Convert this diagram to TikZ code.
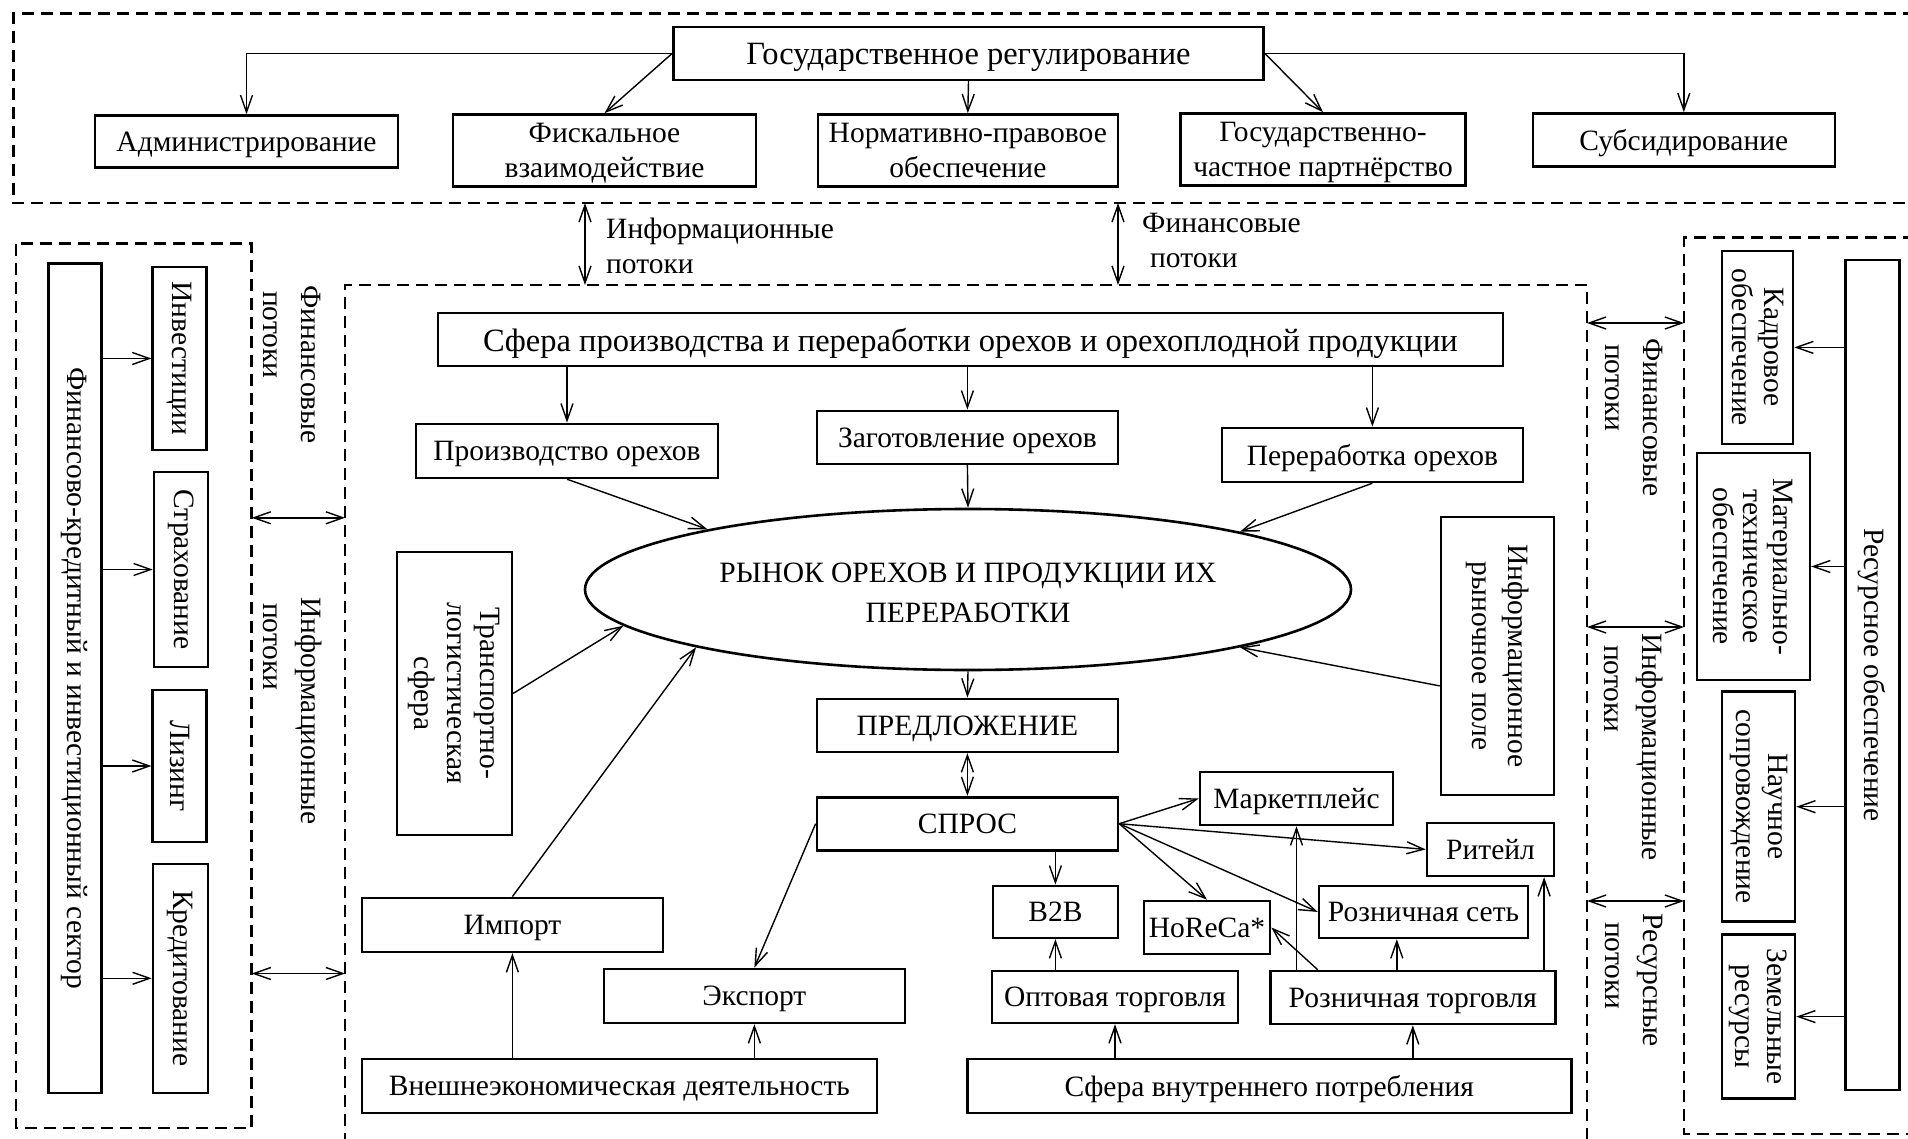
\documentclass[tikz,border=0pt]{standalone}
\usepackage{fontspec}
\setmainfont{Liberation Serif}
\usetikzlibrary{arrows.meta,shapes.geometric}

\begin{document}
\begin{tikzpicture}[x=1pt, y=-1pt,
  font=\fontsize{29.5}{35}\selectfont,
  rbox/.style={draw, line width=2.6pt, inner sep=0pt, align=center},
  box/.style={rbox, text depth=-1.5pt},
  bigtext/.style={font=\fontsize{32.5}{38}\selectfont},
  conn/.style={line width=1.4pt, -{Straight Barb[length=17pt,width=12pt]}},
  dconn/.style={line width=1.4pt, {Straight Barb[length=17pt,width=12pt]}-{Straight Barb[length=17pt,width=12pt]}},
  panel/.style={line width=2.6pt, dash pattern=on 12pt off 7pt},
  flowlabel/.style={inner sep=0pt, align=left},
  sidelabel/.style={flowlabel, rotate=-90, anchor=west, font=\fontsize{29.5}{38}\selectfont},
]
\useasboundingbox (0,0) rectangle (1908,1139);

% dashed panels
\draw[panel] (1915,13.3) -- (13.5,13.3) -- (13.5,203) -- (1915,203);
\draw[panel] (16,243.6) rectangle (251.7,1128);
\draw[panel] (345,1145) -- (345,285) -- (1587,285) -- (1587,1145);
\draw[panel] (1915,237.7) -- (1684,237.7) -- (1684,1134) -- (1915,1134);

% panel edge points for the flows
\coordinate (gov-s1) at (585,203);   \coordinate (mkt-n1) at (585,285);
\coordinate (gov-s2) at (1118,203);  \coordinate (mkt-n2) at (1118,285);
\coordinate (fin-e1) at (251.7,517.8); \coordinate (mkt-w1) at (345,517.8);
\coordinate (fin-e2) at (251.7,973.5); \coordinate (mkt-w2) at (345,973.5);
\coordinate (mkt-e1) at (1587,323);  \coordinate (res-w1) at (1684,323);
\coordinate (mkt-e2) at (1587,627);  \coordinate (res-w2) at (1684,627);
\coordinate (mkt-e3) at (1587,901);  \coordinate (res-w3) at (1684,901);

% state regulation
\node[box, bigtext, minimum width=590pt, minimum height=53pt] (gos) at (968.5,53.4) {Государственное регулирование};
\node[box, minimum width=303pt, minimum height=52pt] (admin) at (246.5,141.5) {Администрирование};
\node[box, minimum width=303pt, minimum height=72pt] (fiskal) at (604.5,150.5) {Фискальное\\взаимодействие};
\node[box, minimum width=300pt, minimum height=72pt] (norm) at (967.8,150.5) {Нормативно-правовое\\обеспечение};
\node[box, minimum width=285pt, minimum height=72pt] (gchp) at (1323,149.5) {Государственно-\\частное партнёрство};
\node[box, minimum width=302pt, minimum height=53pt] (subsid) at (1683.8,140) {Субсидирование};

\draw[conn] (gos.west) -| (admin.north);
\draw[conn] (gos.west) -- (fiskal.north);
\draw[conn] (gos.south) -- (norm.north);
\draw[conn] (gos.east) -- (gchp.north);
\draw[conn] (gos.east) -| (subsid.north);

% flows between the panels
\draw[dconn] (gov-s1) -- (mkt-n1);
\draw[dconn] (gov-s2) -- (mkt-n2);
\draw[dconn] (fin-e1) -- (mkt-w1);
\draw[dconn] (fin-e2) -- (mkt-w2);
\draw[dconn] (mkt-e1) -- (res-w1);
\draw[dconn] (mkt-e2) -- (res-w2);
\draw[dconn] (mkt-e3) -- (res-w3);

\node[flowlabel, anchor=west] (lbl-info-top) at (606,245.5) {Информационные\\потоки};
\node[flowlabel, anchor=west] (lbl-fin-top) at (1142,240.5) {Финансовые\\\hspace*{8pt}потоки};
\node[sidelabel] (lbl-fin-left) at (292.5,285) {Финансовые\\\hspace*{6pt}потоки};
\node[sidelabel] (lbl-info-left) at (292.5,597) {Информационные\\\hspace*{6pt}потоки};
\node[sidelabel] (lbl-fin-right) at (1634,338) {Финансовые\\\hspace*{6pt}потоки};
\node[sidelabel] (lbl-info-right) at (1634,633) {Информационные\\\hspace*{12pt}потоки};
\node[sidelabel] (lbl-res-right) at (1634,913) {Ресурсные\\\hspace*{9pt}потоки};

% production sphere and the market
\node[box, bigtext, minimum width=1065pt, minimum height=53pt] (sfera) at (970.5,339.4) {Сфера производства и переработки орехов и орехоплодной продукции};
\node[box, minimum width=302pt, minimum height=54pt] (proizv) at (567,450.9) {Производство орехов};
\node[box, minimum width=301pt, minimum height=53pt] (zagot) at (967.4,437.4) {Заготовление орехов};
\node[box, minimum width=301pt, minimum height=54pt] (pererab) at (1372.4,454.9) {Переработка орехов};
\node[draw, ellipse, line width=2.6pt, inner sep=0pt, minimum width=766pt, minimum height=161pt] (rynok) at (968,589.5) {};
\node[align=center, inner sep=0pt, font=\fontsize{29.5}{40}\selectfont] (rynok-text) at (968,593) {РЫНОК ОРЕХОВ И ПРОДУКЦИИ ИХ\\ПЕРЕРАБОТКИ};
\node[rbox, rotate=-90, minimum width=283pt, minimum height=115pt, font=\fontsize{29.5}{33}\selectfont] (transport) at (454.4,693.4) {Транспортно-\\логистическая\\сфера};
\node[rbox, rotate=-90, minimum width=278pt, minimum height=113pt, font=\fontsize{29.5}{36}\selectfont] (infofield) at (1497.5,655.9) {Информационное\\рыночное поле};

\draw[conn] (proizv.north |- sfera.south) -- (proizv.north);
\draw[conn] (zagot.north |- sfera.south) -- (zagot.north);
\draw[conn] (pererab.north |- sfera.south) -- (pererab.north);
\draw[conn] (proizv.south) -- (rynok.167.9);
\draw[conn] (zagot.south) -- (rynok.north);
\draw[conn] (pererab.south) -- (rynok.12);
\draw[conn] (transport.north) -- (rynok.186.3);
\draw[conn] ([yshift=-30pt]infofield.south) -- (rynok.348.1);

% supply, demand and channels
\node[box, minimum width=301pt, minimum height=53pt] (predl) at (967.4,725.4) {ПРЕДЛОЖЕНИЕ};
\node[box, minimum width=301pt, minimum height=53pt] (spros) at (967.4,823.7) {СПРОС};
\node[box, minimum width=193pt, minimum height=53pt] (mp) at (1296.5,798.5) {Маркетплейс};
\node[box, minimum width=127pt, minimum height=53pt] (ritail) at (1490.5,849.4) {Ритейл};
\node[box, minimum width=125pt, minimum height=52pt] (b2b) at (1055.4,911.9) {B2B};
\node[box, minimum width=126pt, minimum height=53pt] (horeca) at (1207,927.5) {HoReCa*};
\node[box, minimum width=209pt, minimum height=52pt] (rset) at (1423.5,911.9) {Розничная сеть};
\node[box, minimum width=301pt, minimum height=54pt] (import) at (512.4,924.9) {Импорт};
\node[box, minimum width=301pt, minimum height=54pt] (export) at (754.4,995.9) {Экспорт};
\node[box, minimum width=246pt, minimum height=52pt] (opt) at (1115,996.9) {Оптовая торговля};
\node[box, minimum width=285pt, minimum height=53pt] (rt) at (1412.8,997.5) {Розничная торговля};
\node[box, minimum width=515pt, minimum height=54pt] (vneshn) at (619.4,1086) {Внешнеэкономическая деятельность};
\node[box, minimum width=604pt, minimum height=54pt] (svp) at (1269.3,1086) {Сфера внутреннего потребления};

\coordinate (rt-n1) at ([xshift=-16pt]rt.north);
\coordinate (rt-n2) at ([xshift=-12.5pt]rt.north east);

\draw[conn] (rynok.south) -- (predl.north);
\draw[dconn] (predl.south) -- (spros.north);
\draw[conn] (import.north) -- (rynok.192.8);
\draw[conn] (spros.west) -- (export.north);
\draw[conn] (spros.south -| b2b.north) -- (b2b.north);
\draw[conn] (spros.east) -- (mp.west);
\draw[conn] (spros.east) -- (ritail.west);
\draw[conn] (spros.east) -- (horeca.north);
\draw[conn] (spros.east) -- (rset.west);
\draw[conn] (import.south |- vneshn.north) -- (import.south);
\draw[conn] (export.south |- vneshn.north) -- (export.south);
\draw[conn] (opt.south |- svp.north) -- (opt.south);
\draw[conn] (rt.south |- svp.north) -- (rt.south);
\draw[conn] (b2b.south |- opt.north) -- (b2b.south);
\draw[conn] (mp.south |- rt.north) -- (mp.south);
\draw[conn] (rt.north -| rset.west) -- (horeca.east);
\draw[conn] (rt-n1) -- (rt-n1 |- rset.south);
\draw[conn] (rt-n2) -- (rt-n2 |- ritail.south);

% financial and investment sector
\node[rbox, rotate=-90, minimum width=829pt, minimum height=53pt] (finsec) at (74.7,678.3) {Финансово-кредитный и инвестиционный сектор};
\node[rbox, rotate=-90, minimum width=183pt, minimum height=54pt] (inv) at (179.7,358.5) {Инвестиции};
\node[rbox, rotate=-90, minimum width=195pt, minimum height=54pt] (strakh) at (181,569.5) {Страхование};
\node[rbox, rotate=-90, minimum width=152pt, minimum height=54pt] (lizing) at (179.7,766) {Лизинг};
\node[rbox, rotate=-90, minimum width=229pt, minimum height=55pt] (kredit) at (180.5,978.3) {Кредитование};
\draw[conn] (finsec.north |- inv.south) -- (inv.south);
\draw[conn] (finsec.north |- strakh.south) -- (strakh.south);
\draw[conn] (finsec.north |- lizing.south) -- (lizing.south);
\draw[conn] (finsec.north |- kredit.south) -- (kredit.south);

% resource provision
\node[rbox, rotate=-90, minimum width=830pt, minimum height=54pt] (resurs) at (1872.2,674.9) {Ресурсное обеспечение};
\node[rbox, rotate=-90, minimum width=193pt, minimum height=71pt, font=\fontsize{29.5}{32}\selectfont] (kadr) at (1757.5,347.4) {Кадровое\\обеспечение};
\node[rbox, rotate=-90, minimum width=227pt, minimum height=113pt, font=\fontsize{29.5}{30}\selectfont] (mat) at (1753.4,566.5) {Материально-\\техническое\\обеспечение};
\node[rbox, rotate=-90, minimum width=230pt, minimum height=73pt, font=\fontsize{29.5}{32}\selectfont] (nauch) at (1758.5,806.7) {Научное\\сопровождение};
\node[rbox, rotate=-90, minimum width=164pt, minimum height=73pt, font=\fontsize{29.5}{32}\selectfont] (zemel) at (1758.5,1016.6) {Земельные\\ресурсы};
\draw[conn] (resurs.south |- kadr.north) -- (kadr.north);
\draw[conn] (resurs.south |- mat.north) -- (mat.north);
\draw[conn] (resurs.south |- nauch.north) -- (nauch.north);
\draw[conn] (resurs.south |- zemel.north) -- (zemel.north);
\end{tikzpicture}
\end{document}
